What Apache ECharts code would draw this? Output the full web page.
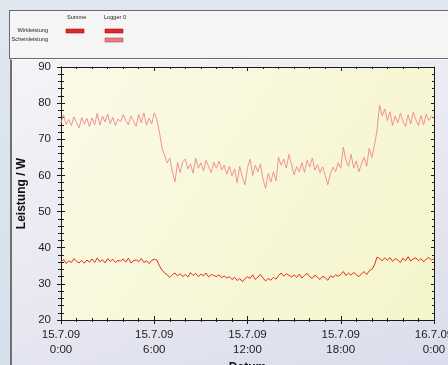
<!DOCTYPE html>
<html>
<head>
<meta charset="utf-8">
<script src="https://cdn.jsdelivr.net/npm/echarts@6/dist/echarts.min.js"></script>
<style>
  html, body { margin: 0; padding: 0; width: 448px; height: 365px; overflow: hidden;
    background: linear-gradient(180deg, #dfe8f0 0%, #d6e0ea 100%); font-family: "Liberation Sans", Arial, sans-serif; }
  #top { position: absolute; left: 9px; top: 10px; width: 460px; height: 47px;
    background: #f5f5f5; border: 1px solid #6a6a6a; }
  #bottom { position: absolute; left: 10px; top: 59px; width: 460px; height: 320px;
    background: linear-gradient(160deg, #f4f4f8 0%, #e6e7f1 55%, #dadcec 100%);
    border-left: 2px solid #707070; border-top: 1px solid #ffffff; }
  #chart { position: absolute; left: 0; top: 0; width: 448px; height: 365px; }
</style>
</head>
<body>
<div id="top"></div>
<div id="bottom"></div>
<div id="chart"></div>
<script>
// time step of samples (minutes) and axis ticks
const stepMinutes = 10;
const xTickLabels = ['15.7.09\n0:00', '15.7.09\n6:00', '15.7.09\n12:00', '15.7.09\n18:00', '16.7.09\n0:00'];
const yTicks = [20, 30, 40, 50, 60, 70, 80, 90];

// Scheinleistung (Logger 0), W, every 10 minutes from 15.7.09 0:00 to 16.7.09 0:00
const scheinleistung = [
  74.5, 76.8, 74.0, 75.5, 73.8, 76.2,
  74.6, 73.2, 76.0, 74.2, 75.8, 73.5,
  75.9, 74.0, 77.2, 73.9, 76.4, 74.8,
  77.0, 74.3, 76.1, 73.8, 75.6, 74.9,
  76.8, 75.2, 74.0, 76.5, 75.0, 73.6,
  76.9, 74.5, 77.3, 73.9, 75.8, 74.2,
  77.3, 75.5, 72.0, 67.6, 65.5, 63.5,
  64.8, 61.0, 58.2, 63.6, 60.8, 63.8,
  64.5, 61.8, 63.2, 60.6, 64.8, 62.0,
  63.5, 61.2, 64.2, 62.4, 60.8, 63.6,
  62.0, 64.0, 61.5, 62.8, 60.3, 62.5,
  59.8, 61.8, 58.0, 62.5, 59.6, 57.4,
  62.2, 64.5, 60.0, 62.8, 61.0, 63.2,
  59.0, 56.4, 60.5, 58.2, 61.0, 58.5,
  65.0, 62.8, 64.5, 62.0, 65.8, 63.0,
  60.2, 62.4, 61.0, 63.5, 60.8, 64.2,
  62.3, 64.8, 61.5, 63.0, 60.8, 62.4,
  60.0, 57.4, 60.5, 62.3, 61.0, 63.5,
  62.0, 67.8, 64.2, 62.5, 65.8, 62.0,
  64.0, 61.0, 63.2, 65.0, 62.5, 67.5,
  65.0, 68.2, 72.5, 79.5, 76.5, 78.4,
  75.2, 77.6, 73.8, 76.4, 74.5, 77.2,
  75.0, 73.5, 76.8, 74.2, 77.5, 75.4,
  73.8, 76.6, 74.0, 77.0, 75.2, 76.4,
  75.8
];

// Wirkleistung (Logger 0 / Summe), W
const wirkleistung = [
  36.0, 36.8, 35.6, 36.4, 35.9, 37.0,
  36.2, 35.8, 36.5, 35.7, 36.6, 36.0,
  36.9, 35.9, 37.2, 36.1, 36.7, 35.8,
  37.0, 36.2, 36.8, 35.9, 36.5, 36.3,
  36.9, 36.0, 37.1, 35.8, 36.4, 36.6,
  36.1, 37.0, 35.9, 36.4, 35.6, 36.5,
  36.8, 36.6, 35.0, 33.8, 33.0, 32.5,
  31.8, 32.5, 33.0, 32.2, 32.8, 32.0,
  32.6, 31.9, 33.1, 32.3, 32.9, 32.0,
  32.7, 32.2, 33.0, 31.9, 32.6, 32.3,
  32.0, 32.5, 31.7, 32.2, 31.6, 32.0,
  31.2, 31.8, 30.9, 31.5, 30.6, 31.4,
  32.0, 31.5, 32.5, 31.2, 31.9, 32.6,
  31.6, 30.8, 31.5, 31.0, 31.8, 31.3,
  32.3, 33.0, 32.1, 32.8, 32.4, 31.9,
  32.5, 31.8, 32.7, 31.6, 32.3, 32.9,
  32.0, 31.5, 32.4, 31.8, 31.2, 32.1,
  31.7, 31.0, 32.2, 31.8, 32.5, 32.1,
  32.6, 33.4, 32.3, 33.0, 32.4, 33.2,
  32.5, 32.0, 32.8, 33.4, 32.6, 33.6,
  34.0, 35.2, 37.4, 37.0, 36.4, 37.2,
  36.5, 37.3, 36.2, 37.0, 36.6, 35.9,
  37.1, 36.4, 37.5, 36.3, 36.9, 37.2,
  36.4, 37.0, 36.1, 36.8, 37.3, 36.6,
  36.9
];

const toPairs = arr => arr.map((v, i) => [i * stepMinutes / 60, v]);

const chart = echarts.init(document.getElementById('chart'), null, { renderer: 'canvas' });
const axisLine = { show: true, onZero: false, lineStyle: { color: '#1a1a1a', width: 1 } };
const tickStyle = { color: '#1a1a1a', width: 1 };
const xBase = { type: 'value', gridIndex: 0, min: 0, max: 24, interval: 6, splitLine: { show: false }, axisLine: axisLine };
const yBase = { type: 'value', gridIndex: 0, min: yTicks[0], max: yTicks[yTicks.length - 1], interval: 10, splitLine: { show: false }, axisLine: axisLine };
const smallFont = '5.6px "Liberation Sans", Arial';

chart.setOption({
  animation: false,
  grid: {
    left: 61, right: 14, top: 67, bottom: 45, show: true, borderWidth: 0,
    outerBoundsMode: 'none', containLabel: false,
    backgroundColor: new echarts.graphic.LinearGradient(0, 0, 1, 1, [
      { offset: 0, color: '#fafae8' }, { offset: 1, color: '#f5f5cb' }
    ])
  },
  graphic: [
    { type: 'text', left: 67, top: 14, style: { text: 'Summe', font: smallFont, fill: '#222' } },
    { type: 'text', left: 104, top: 14, style: { text: 'Logger 0', font: smallFont, fill: '#222' } },
    { type: 'text', right: 400, top: 27, style: { text: 'Wirkleistung', font: smallFont, fill: '#222', align: 'right' } },
    { type: 'text', right: 400, top: 36, style: { text: 'Scheinleistung', font: smallFont, fill: '#222', align: 'right' } },
    { type: 'rect', shape: { x: 66, y: 29, width: 18, height: 4 }, style: { fill: '#e02a2a', stroke: '#a01010', lineWidth: 0.6 } },
    { type: 'rect', shape: { x: 105, y: 29, width: 18, height: 4 }, style: { fill: '#e02a2a', stroke: '#a01010', lineWidth: 0.6 } },
    { type: 'rect', shape: { x: 105, y: 38, width: 18, height: 4 }, style: { fill: '#ec7c80', stroke: '#b04848', lineWidth: 0.6 } }
  ],
  xAxis: [
    Object.assign({}, xBase, {
      position: 'bottom', name: 'Datum', nameLocation: 'middle', nameGap: 37,
      nameTextStyle: { fontSize: 12, fontWeight: 'bold', color: '#111', fontFamily: 'Liberation Sans' },
      axisTick: { show: true, inside: false, length: 4, lineStyle: tickStyle },
      minorTick: { show: true, splitNumber: 6, length: 2, lineStyle: tickStyle },
      axisLabel: { show: true, margin: 7, fontSize: 11.5, lineHeight: 15, color: '#222', fontFamily: 'Liberation Sans',
        formatter: v => xTickLabels[Math.round(v / 6)] }
    }),
    Object.assign({}, xBase, {
      position: 'bottom',
      axisTick: { show: true, inside: true, length: 4, lineStyle: tickStyle },
      minorTick: { show: true, splitNumber: 6, length: 2, lineStyle: tickStyle },
      axisLabel: { show: false }
    }),
    Object.assign({}, xBase, {
      position: 'top',
      axisTick: { show: true, inside: true, length: 4, lineStyle: tickStyle },
      minorTick: { show: true, splitNumber: 6, length: 2, lineStyle: tickStyle },
      axisLabel: { show: false }
    })
  ],
  yAxis: [
    Object.assign({}, yBase, {
      position: 'left', name: 'Leistung / W', nameLocation: 'middle', nameGap: 33, nameRotate: 90,
      nameTextStyle: { fontSize: 12, fontWeight: 'bold', color: '#111', fontFamily: 'Liberation Sans' },
      axisTick: { show: true, inside: false, length: 4, lineStyle: tickStyle },
      minorTick: { show: true, splitNumber: 5, length: 3, lineStyle: tickStyle },
      axisLabel: { show: true, margin: 10, fontSize: 11.5, color: '#222', fontFamily: 'Liberation Sans' }
    }),
    Object.assign({}, yBase, {
      position: 'left',
      axisTick: { show: true, inside: true, length: 4, lineStyle: tickStyle },
      minorTick: { show: true, splitNumber: 5, length: 3, lineStyle: tickStyle },
      axisLabel: { show: false }
    }),
    Object.assign({}, yBase, {
      position: 'right',
      axisTick: { show: true, inside: true, length: 3, lineStyle: tickStyle },
      minorTick: { show: true, splitNumber: 5, length: 2, lineStyle: tickStyle },
      axisLabel: { show: false }
    })
  ],
  series: [
    { name: 'Scheinleistung', type: 'line', xAxisIndex: 0, yAxisIndex: 0, showSymbol: false, symbol: 'none',
      lineStyle: { color: '#f28690', width: 0.9 }, data: toPairs(scheinleistung) },
    { name: 'Wirkleistung', type: 'line', xAxisIndex: 0, yAxisIndex: 0, showSymbol: false, symbol: 'none',
      lineStyle: { color: '#ee2a1c', width: 1 }, data: toPairs(wirkleistung) }
  ]
});
</script>
</body>
</html>
